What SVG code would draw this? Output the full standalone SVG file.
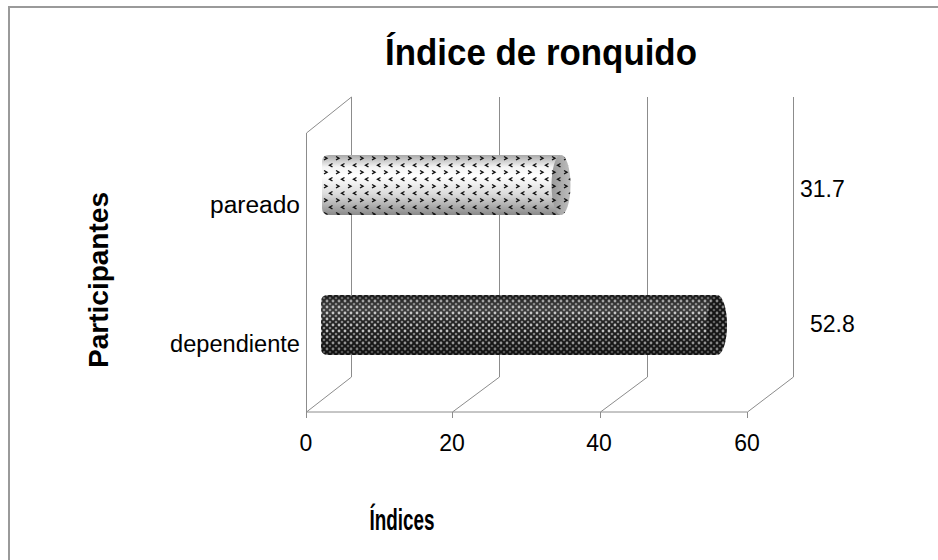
<svg xmlns="http://www.w3.org/2000/svg" width="938" height="560" viewBox="0 0 938 560">
  <style>
    .grid { stroke: #8c8c8c; stroke-width: 1; fill: none; }
    .lbl { font-family: "Liberation Sans", Arial, sans-serif; font-size: 23px; fill: #000; }
    .bold { font-family: "Liberation Sans", Arial, sans-serif; font-weight: bold; fill: #000; }
  </style>
  <defs>
    <pattern id="patLight" width="12" height="14" patternUnits="userSpaceOnUse" x="322" y="155">
      <path d="M2,1.5 L5,3.2 L2,5" fill="none" stroke="#111" stroke-width="1.4"/>
      <path d="M10.5,8.5 L7.5,10.2 L10.5,12" fill="none" stroke="#111" stroke-width="1.4"/>
    </pattern>
    <pattern id="patDark" width="6" height="6" patternUnits="userSpaceOnUse" x="321" y="295">
      <rect width="6" height="6" fill="#1e1e1e"/>
      <circle cx="0" cy="0" r="1.4" fill="#c0c0c0"/>
      <circle cx="6" cy="0" r="1.4" fill="#c0c0c0"/>
      <circle cx="0" cy="6" r="1.4" fill="#c0c0c0"/>
      <circle cx="6" cy="6" r="1.4" fill="#c0c0c0"/>
      <circle cx="3" cy="3" r="1.3" fill="#8a8a8a"/>
    </pattern>
    <linearGradient id="gLight" x1="0" y1="0" x2="0" y2="1">
      <stop offset="0" stop-color="#a8a8a8"/>
      <stop offset="0.2" stop-color="#f4f4f4"/>
      <stop offset="0.35" stop-color="#ffffff"/>
      <stop offset="0.65" stop-color="#dcdcdc"/>
      <stop offset="1" stop-color="#8a8a8a"/>
    </linearGradient>
    <linearGradient id="gCapLight" x1="0" y1="0" x2="1" y2="0">
      <stop offset="0" stop-color="#9a9a9a"/>
      <stop offset="1" stop-color="#bdbdbd"/>
    </linearGradient>
    <linearGradient id="gShade" x1="0" y1="0" x2="0" y2="1">
      <stop offset="0" stop-color="#000" stop-opacity="0.35"/>
      <stop offset="0.3" stop-color="#fff" stop-opacity="0.12"/>
      <stop offset="0.6" stop-color="#000" stop-opacity="0"/>
      <stop offset="1" stop-color="#000" stop-opacity="0.45"/>
    </linearGradient>
  </defs>

  <rect x="9" y="7" width="940" height="570" fill="#fff" stroke="#9a9a9a" stroke-width="2"/>

  <g id="title">
    <text class="bold" x="541" y="65" font-size="37" text-anchor="middle" textLength="312" lengthAdjust="spacingAndGlyphs">Índice de ronquido</text>
  </g>

  <g id="axes">
    <line class="grid" x1="306.5" y1="133" x2="306.5" y2="418"/>
    <line class="grid" x1="306.5" y1="133" x2="351.5" y2="97"/>
    <line class="grid" x1="351.5" y1="97" x2="351.5" y2="377"/>
    <line class="grid" x1="499.5" y1="97" x2="499.5" y2="377"/>
    <line class="grid" x1="647.5" y1="97" x2="647.5" y2="377"/>
    <line class="grid" x1="793.5" y1="97" x2="793.5" y2="377"/>
    <line class="grid" x1="306.5" y1="412" x2="747.5" y2="412"/>
    <line class="grid" x1="306.5" y1="412" x2="351.5" y2="377"/>
    <line class="grid" x1="452.5" y1="412" x2="499.5" y2="377"/>
    <line class="grid" x1="600.5" y1="412" x2="647.5" y2="377"/>
    <line class="grid" x1="747.5" y1="412" x2="793.5" y2="377"/>
    <line class="grid" x1="452.5" y1="412" x2="452.5" y2="418"/>
    <line class="grid" x1="600.5" y1="412" x2="600.5" y2="418"/>
    <line class="grid" x1="747.5" y1="412" x2="747.5" y2="418"/>
    <text class="lbl" x="306" y="451" text-anchor="middle">0</text>
    <text class="lbl" x="452" y="451" text-anchor="middle">20</text>
    <text class="lbl" x="599" y="451" text-anchor="middle">40</text>
    <text class="lbl" x="747" y="451" text-anchor="middle">60</text>
  </g>

  <g id="bar-pareado">
    <path d="M322,162 Q322,155 329,155 L560,155 L560,215 L329,215 Q322,215 322,208 Z" fill="url(#gLight)"/>
    <path d="M322,162 Q322,155 329,155 L560,155 L560,215 L329,215 Q322,215 322,208 Z" fill="url(#patLight)"/>
    <ellipse cx="561" cy="185" rx="9.5" ry="30" fill="url(#gCapLight)"/>
    <ellipse cx="561" cy="185" rx="9.5" ry="30" fill="url(#patLight)"/>
  </g>

  <g id="bar-dependiente">
    <path d="M321,302 Q321,295 328,295 L717,295 L717,355 L328,355 Q321,355 321,348 Z" fill="url(#patDark)"/>
    <path d="M321,302 Q321,295 328,295 L717,295 L717,355 L328,355 Q321,355 321,348 Z" fill="url(#gShade)"/>
    <ellipse cx="717" cy="325" rx="10" ry="30" fill="url(#patDark)"/>
    <ellipse cx="717" cy="325" rx="10" ry="30" fill="#000" fill-opacity="0.3"/>
  </g>

  <g id="category-labels">
    <text class="lbl" x="300" y="213" text-anchor="end" textLength="90" lengthAdjust="spacingAndGlyphs">pareado</text>
    <text class="lbl" x="300" y="352" text-anchor="end" textLength="130" lengthAdjust="spacingAndGlyphs">dependiente</text>
  </g>

  <g id="value-labels">
    <text class="lbl" x="800" y="197">31.7</text>
    <text class="lbl" x="810" y="332">52.8</text>
  </g>

  <g id="y-title">
    <text class="bold" font-size="27" transform="translate(108,280) rotate(-90)" text-anchor="middle" textLength="176" lengthAdjust="spacingAndGlyphs">Participantes</text>
  </g>

  <g id="x-title">
    <text class="bold" font-size="29" x="402" y="530" text-anchor="middle" textLength="65" lengthAdjust="spacingAndGlyphs">Índices</text>
  </g>
</svg>
